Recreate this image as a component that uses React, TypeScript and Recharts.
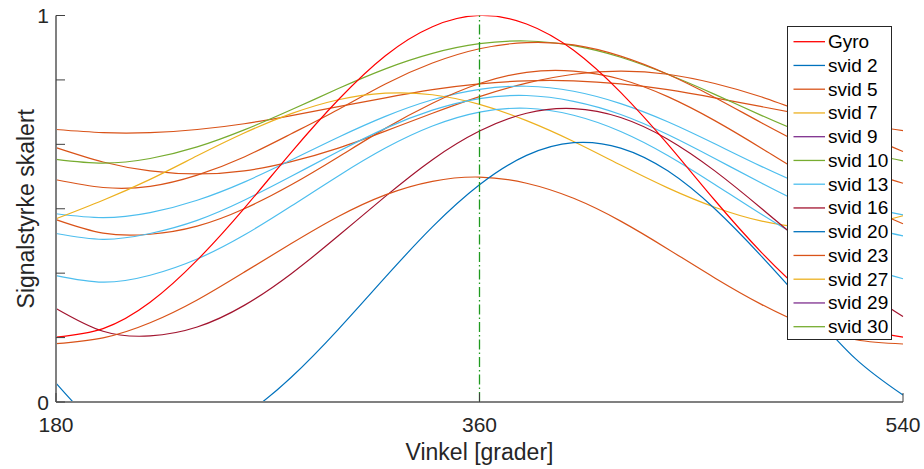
import React from "react";
import { LineChart, Line, XAxis, YAxis, ReferenceLine, Legend } from "recharts";

// angle samples (degrees)
const angles = [180, 200, 220, 240, 260, 280, 300, 320, 340, 360, 380, 400, 420, 440, 460, 480, 500, 520, 540];

// scaled signal strength, one value per angle
const gyro = [0.168, 0.19, 0.258, 0.367, 0.501, 0.646, 0.782, 0.896, 0.971, 1.0, 0.978, 0.91, 0.801, 0.667, 0.522, 0.386, 0.272, 0.197, 0.168];
const blueCurve = [0.049, -0.07, -0.107, -0.093, -0.034, 0.064, 0.188, 0.323, 0.453, 0.562, 0.638, 0.671, 0.657, 0.598, 0.5, 0.376, 0.241, 0.111, 0.018];
const orangeTop = [0.705, 0.697, 0.697, 0.705, 0.72, 0.741, 0.764, 0.787, 0.808, 0.823, 0.831, 0.831, 0.823, 0.808, 0.787, 0.764, 0.741, 0.72, 0.702];
const orangePeak = [0.575, 0.555, 0.558, 0.587, 0.634, 0.694, 0.757, 0.823, 0.877, 0.914, 0.93, 0.924, 0.895, 0.848, 0.788, 0.722, 0.659, 0.605, 0.566];
const orangeMid = [0.658, 0.621, 0.598, 0.59, 0.598, 0.622, 0.657, 0.701, 0.747, 0.79, 0.825, 0.848, 0.856, 0.848, 0.824, 0.789, 0.745, 0.699, 0.648];
const orangeLow = [0.472, 0.437, 0.434, 0.455, 0.5, 0.562, 0.634, 0.708, 0.773, 0.824, 0.853, 0.856, 0.835, 0.79, 0.728, 0.656, 0.582, 0.517, 0.461];
const orangeBottom = [0.151, 0.166, 0.205, 0.264, 0.336, 0.41, 0.48, 0.536, 0.571, 0.582, 0.566, 0.527, 0.468, 0.396, 0.321, 0.252, 0.196, 0.161, 0.15];
const yellowCurve = [0.474, 0.522, 0.576, 0.637, 0.696, 0.746, 0.782, 0.799, 0.795, 0.77, 0.728, 0.674, 0.613, 0.554, 0.504, 0.468, 0.451, 0.455, 0.482];
const greenCurve = [0.628, 0.618, 0.63, 0.66, 0.704, 0.756, 0.811, 0.862, 0.902, 0.927, 0.934, 0.922, 0.892, 0.848, 0.796, 0.741, 0.69, 0.65, 0.624];
const cyanTop = [0.487, 0.477, 0.49, 0.522, 0.569, 0.626, 0.685, 0.739, 0.782, 0.809, 0.817, 0.804, 0.772, 0.725, 0.668, 0.609, 0.555, 0.512, 0.484];
const cyanMid = [0.436, 0.421, 0.436, 0.47, 0.522, 0.584, 0.648, 0.708, 0.755, 0.785, 0.793, 0.778, 0.744, 0.692, 0.63, 0.566, 0.506, 0.459, 0.43];
const cyanLow = [0.327, 0.31, 0.328, 0.37, 0.432, 0.507, 0.585, 0.657, 0.714, 0.75, 0.76, 0.742, 0.7, 0.638, 0.563, 0.485, 0.413, 0.356, 0.319];
const darkRed = [0.242, 0.183, 0.171, 0.194, 0.25, 0.332, 0.43, 0.532, 0.627, 0.701, 0.747, 0.759, 0.736, 0.68, 0.598, 0.5, 0.398, 0.303, 0.221];

const xTicks = [180, 360, 540];
const yTicks = [0, 1 / 6, 2 / 6, 3 / 6, 4 / 6, 5 / 6, 1];
const yTickLabels = ["0", "", "", "", "", "", "1"];

const legendNames = ["Gyro", "svid 2", "svid 5", "svid 7", "svid 9", "svid 10", "svid 13", "svid 16", "svid 20", "svid 23", "svid 27", "svid 29", "svid 30"];
const legendColors = ["#FF0000", "#0072BD", "#D95319", "#EDB120", "#7E2F8E", "#77AC30", "#4DBEEE", "#A2142F", "#0072BD", "#D95319", "#EDB120", "#7E2F8E", "#77AC30"];

const series = [
  { key: "orangeTop", values: orangeTop, color: "#D95319" },
  { key: "orangeMid", values: orangeMid, color: "#D95319" },
  { key: "greenCurve", values: greenCurve, color: "#77AC30" },
  { key: "orangePeak", values: orangePeak, color: "#D95319" },
  { key: "cyanTop", values: cyanTop, color: "#4DBEEE" },
  { key: "yellowCurve", values: yellowCurve, color: "#EDB120" },
  { key: "orangeLow", values: orangeLow, color: "#D95319" },
  { key: "cyanMid", values: cyanMid, color: "#4DBEEE" },
  { key: "cyanLow", values: cyanLow, color: "#4DBEEE" },
  { key: "darkRed", values: darkRed, color: "#A2142F" },
  { key: "orangeBottom", values: orangeBottom, color: "#D95319" },
  { key: "blueCurve", values: blueCurve, color: "#0072BD" },
  { key: "gyro", values: gyro, color: "#FF0000" },
];

const data = angles.map((deg, i) => {
  const row: Record<string, number> = { deg };
  series.forEach((s) => {
    row[s.key] = s.values[i];
  });
  return row;
});

const FONT = "'Liberation Sans', Arial, Helvetica, sans-serif";
const TEXT = "#262626";

function YTick(props: any) {
  const { x, y, payload } = props;
  const idx = yTicks.findIndex((t) => Math.abs(t - payload.value) < 1e-6);
  const label = idx >= 0 ? yTickLabels[idx] : "";
  return (
    <g>
      <line x1={x} x2={x + 9} y1={y} y2={y} stroke="#404040" strokeWidth={1} />
      {label && (
        <text x={x - 7} y={y} textAnchor="end" dominantBaseline="central" fontSize={21} fontFamily={FONT} fill={TEXT}>
          {label}
        </text>
      )}
    </g>
  );
}

function XTick(props: any) {
  const { x, y, payload } = props;
  return (
    <g>
      <line x1={x} x2={x} y1={y} y2={y - 9} stroke="#404040" strokeWidth={1} />
      <text x={x} y={y + 22} textAnchor="middle" dominantBaseline="central" fontSize={21} fontFamily={FONT} fill={TEXT}>
        {payload.value}
      </text>
    </g>
  );
}

function renderLegend() {
  return (
    <div style={{ width: 105, height: 314, boxSizing: "border-box", border: "1px solid #262626", background: "#fff" }}>
      <svg width={103} height={312} style={{ display: "block" }}>
        {legendNames.map((name, i) => {
          const cy = 14.7 + i * 23.75;
          return (
            <g key={name}>
              <line x1={5.5} x2={37} y1={cy} y2={cy} stroke={legendColors[i]} strokeWidth={1.3} />
              <text x={40} y={cy} dominantBaseline="central" fontSize={19} fontFamily={FONT} fill="#000">
                {name}
              </text>
            </g>
          );
        })}
      </svg>
    </div>
  );
}

export default function App() {
  return (
    <div style={{ position: "absolute", left: 0, top: 0, background: "#fff" }}>
      <LineChart width={924} height={469} data={data} margin={{ top: 15.5, right: 21, bottom: 27, left: 16 }}>
        <XAxis
          dataKey="deg"
          type="number"
          domain={[180, 540]}
          ticks={xTicks}
          interval={0}
          tickSize={0}
          tickMargin={0}
          tickLine={false}
          height={40}
          axisLine={{ stroke: "#808080", strokeWidth: 2 }}
          tick={<XTick />}
          label={{
            content: (p: any) => {
              const vb = p.viewBox;
              return (
                <text x={vb.x + vb.width / 2} y={452} textAnchor="middle" dominantBaseline="central" fontSize={23} fontFamily={FONT} fill={TEXT}>
                  Vinkel [grader]
                </text>
              );
            },
          }}
        />
        <YAxis
          type="number"
          domain={[0, 1]}
          ticks={yTicks}
          interval={0}
          allowDataOverflow
          tickSize={0}
          tickMargin={0}
          tickLine={false}
          width={40}
          axisLine={{ stroke: "#808080", strokeWidth: 2 }}
          tick={<YTick />}
          label={{
            content: (p: any) => {
              const vb = p.viewBox;
              const cy = vb.y + vb.height / 2;
              return (
                <text x={26} y={cy} textAnchor="middle" dominantBaseline="central" fontSize={23} fontFamily={FONT} fill={TEXT} transform={`rotate(-90, 26, ${cy})`}>
                  Signalstyrke skalert
                </text>
              );
            },
          }}
        />
        {series.map((s) => (
          <Line
            key={s.key}
            type="natural"
            dataKey={s.key}
            stroke={s.color}
            strokeWidth={1.2}
            dot={false}
            activeDot={false}
            isAnimationActive={false}
          />
        ))}
        <ReferenceLine x={360} stroke="#1f9a1f" strokeWidth={1.3} strokeDasharray="10 3 1.5 3" />
        <Legend
          layout="vertical"
          align="center"
          verticalAlign="middle"
          wrapperStyle={{ left: 787, top: 26, width: 105, height: 314 }}
          content={renderLegend}
        />
      </LineChart>
    </div>
  );
}
